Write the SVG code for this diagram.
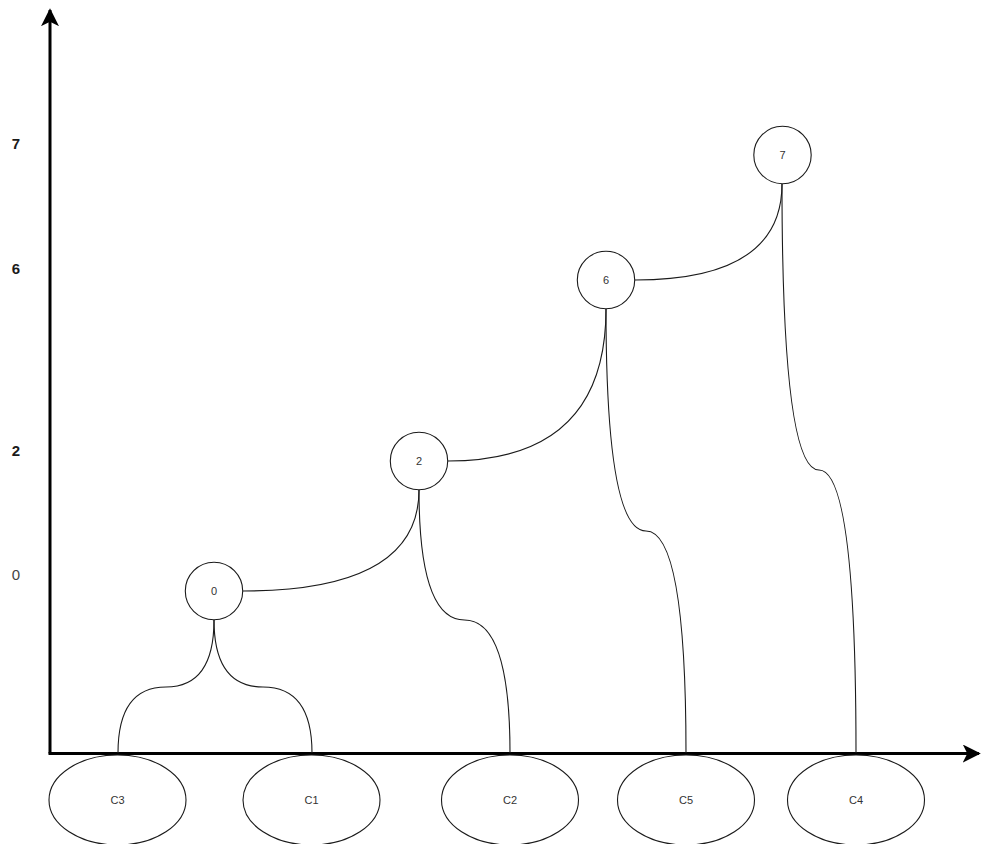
<svg xmlns="http://www.w3.org/2000/svg" width="982" height="844" viewBox="0 0 982 844">
<style>
.ax{stroke:#000;stroke-width:3;fill:none}
.edge{stroke:#1a1a1a;stroke-width:1.1;fill:none}
.node{fill:#fff;stroke:#1a1a1a;stroke-width:1.1}
.lbl{font-family:"Liberation Sans",Arial,sans-serif;font-size:11px;fill:#333;text-anchor:middle;dominant-baseline:central}
.tick{font-family:"Liberation Sans",Arial,sans-serif;font-size:15px;font-weight:bold;fill:#1a1a1a;text-anchor:middle}
</style>
<defs>
<marker id="arr" viewBox="0 0 10 10" refX="9" refY="5" markerWidth="6" markerHeight="6" orient="auto" markerUnits="strokeWidth">
<path d="M0,0 L10,5 L0,10 L2.5,5 z" fill="#000"/>
</marker>
</defs>
<g id="axes">
<path class="ax" d="M50,753.5 L50,10" marker-end="url(#arr)"/>
<path class="ax" d="M48.5,753.5 L979,753.5" marker-end="url(#arr)"/>
</g>
<g id="ticks">
<text class="tick" x="16" y="149">7</text>
<text class="tick" x="16" y="274">6</text>
<text class="tick" x="16" y="456">2</text>
<text class="tick" x="16" y="580" style="font-weight:normal;fill:#444">0</text>
</g>
<g id="connectors">
<path class="edge" d="M214,620 Q214,687 166,687 Q118,687 118,753"/>
<path class="edge" d="M214,620 Q214,687 263,687 Q312,687 312,753"/>
<path class="edge" d="M243,591 Q419,591 419,490"/>
<path class="edge" d="M419,490 Q419,620 464.5,620 Q510,620 510,753"/>
<path class="edge" d="M448,461 Q606,461 606,309"/>
<path class="edge" d="M606,309 Q606,531 646,531 Q686,531 686,753"/>
<path class="edge" d="M635,280 Q782,280 782,184"/>
<path class="edge" d="M782,184 Q782,470 819,470 Q856,470 856,753"/>
</g>
<g id="n0"><circle class="node" cx="214" cy="591" r="28.7"/><text class="lbl" x="214" y="591">0</text></g>
<g id="n2"><circle class="node" cx="419" cy="461" r="28.7"/><text class="lbl" x="419" y="461">2</text></g>
<g id="n6"><circle class="node" cx="606" cy="280" r="28.7"/><text class="lbl" x="606" y="280">6</text></g>
<g id="n7"><circle class="node" cx="782.5" cy="155" r="28.7"/><text class="lbl" x="782.5" y="155">7</text></g>
<g id="C3"><ellipse class="node" cx="117.5" cy="800" rx="68.5" ry="45"/><text class="lbl" x="117.5" y="800">C3</text></g>
<g id="C1"><ellipse class="node" cx="311.5" cy="800" rx="68.5" ry="45"/><text class="lbl" x="311.5" y="800">C1</text></g>
<g id="C2"><ellipse class="node" cx="510" cy="800" rx="68.5" ry="45"/><text class="lbl" x="510" y="800">C2</text></g>
<g id="C5"><ellipse class="node" cx="686" cy="800" rx="68.5" ry="45"/><text class="lbl" x="686" y="800">C5</text></g>
<g id="C4"><ellipse class="node" cx="856" cy="800" rx="68.5" ry="45"/><text class="lbl" x="856" y="800">C4</text></g>
</svg>
